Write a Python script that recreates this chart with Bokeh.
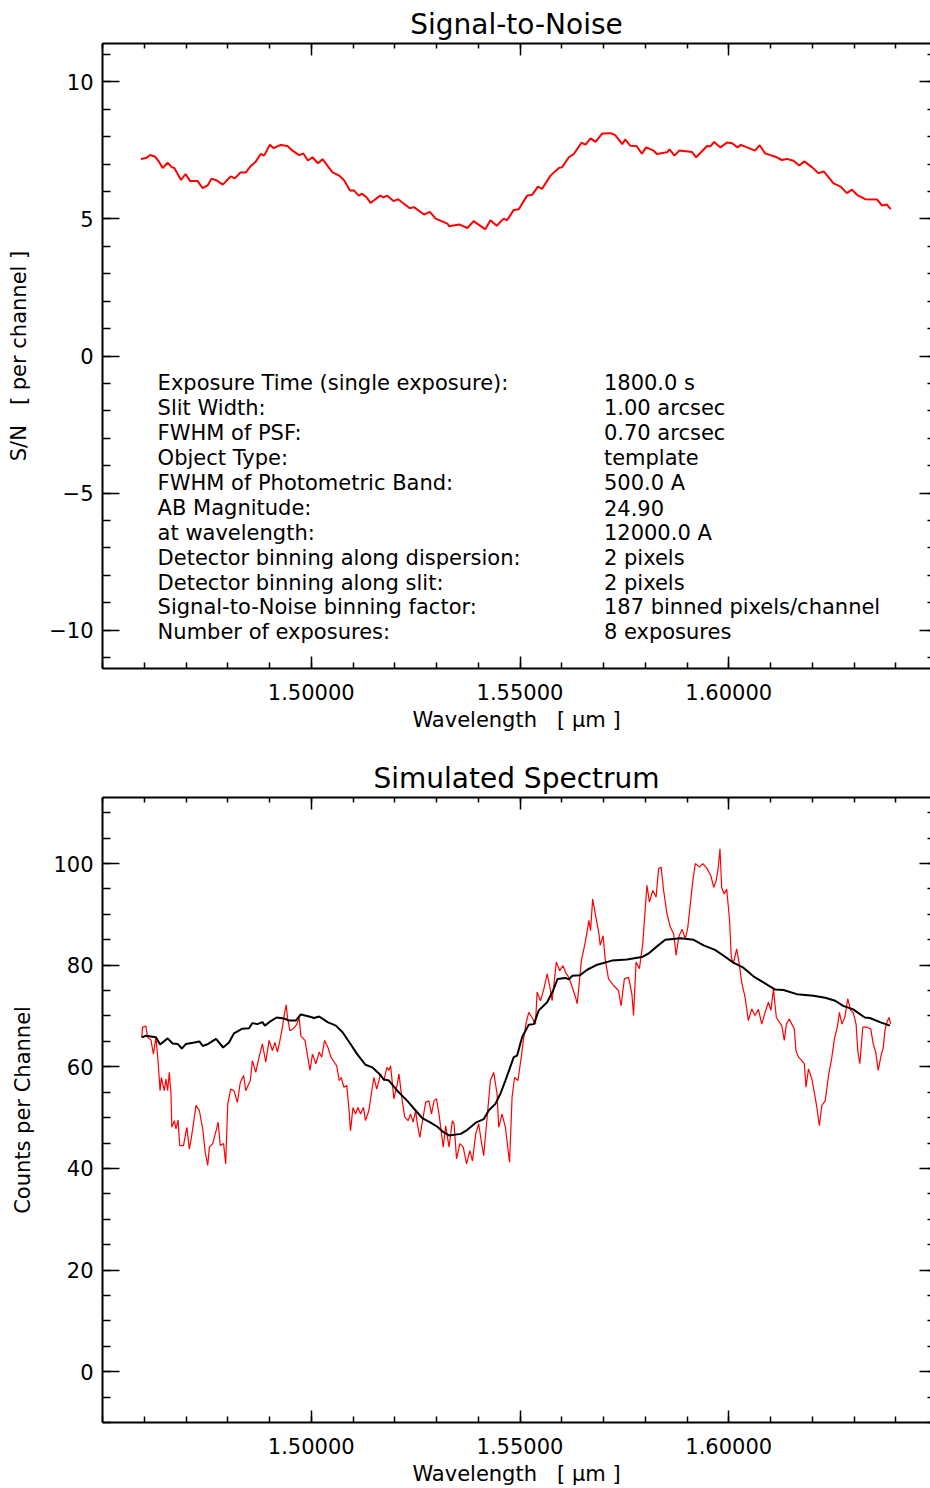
from bokeh.plotting import figure
from bokeh.models import (FixedTicker, LinearAxis, Range1d, NumeralTickFormatter,
                          CustomJSTickFormatter, ColumnDataSource, CustomLabelingPolicy)
from bokeh.layouts import column
from bokeh.embed import file_html
from bokeh.resources import INLINE
from bokeh.core.properties import value

FONT = "DejaVu Sans"
NB = "\u00a0"

# ---------------- data ----------------
sn_wl = [1.4592, 1.4604, 1.4614, 1.4626, 1.4636, 1.4644, 1.4656, 1.4666, 1.4672, 1.4688,
         1.4699, 1.4710, 1.4728, 1.4740, 1.4752, 1.4761, 1.4774, 1.4788, 1.4807, 1.4817,
         1.4830, 1.4843, 1.4854, 1.4867, 1.4879, 1.4887, 1.4901, 1.4910, 1.4927, 1.4943,
         1.4955, 1.4971, 1.4981, 1.4992, 1.5003, 1.5016, 1.5027, 1.5051, 1.5067, 1.5078,
         1.5093, 1.5102, 1.5114, 1.5122, 1.5134, 1.5142, 1.5165, 1.5173, 1.5182, 1.5197,
         1.5208, 1.5236, 1.5246, 1.5270, 1.5284, 1.5298, 1.5326, 1.5330, 1.5354, 1.5374,
         1.5389, 1.5417, 1.5429, 1.5444, 1.5461, 1.5469, 1.5485, 1.5497, 1.5517, 1.5529,
         1.5543, 1.5553, 1.5573, 1.5593, 1.5601, 1.5617, 1.5629, 1.5647, 1.5657, 1.5669,
         1.5681, 1.5697, 1.5717, 1.5728, 1.5745, 1.5752, 1.5764, 1.5779, 1.5792, 1.5802,
         1.5820, 1.5828, 1.5852, 1.5858, 1.5870, 1.5882, 1.5912, 1.5922, 1.5948, 1.5956,
         1.5965, 1.5980, 1.5996, 1.6008, 1.6021, 1.6029, 1.6063, 1.6074, 1.6087, 1.6115,
         1.6127, 1.6139, 1.6155, 1.6169, 1.6181, 1.6199, 1.6215, 1.6228, 1.6251, 1.6268,
         1.6283, 1.6295, 1.6307, 1.6327, 1.6355, 1.6367, 1.6378, 1.6388]
sn_val = [7.19, 7.22, 7.33, 7.27, 7.07, 6.86, 7.05, 6.89, 6.86, 6.42,
          6.64, 6.38, 6.38, 6.12, 6.22, 6.47, 6.40, 6.25, 6.55, 6.48,
          6.69, 6.69, 6.91, 7.09, 7.37, 7.31, 7.71, 7.58, 7.70, 7.66,
          7.49, 7.33, 7.39, 7.13, 7.25, 7.03, 7.18, 6.70, 6.58, 6.42,
          6.04, 6.04, 5.85, 5.92, 5.76, 5.58, 5.85, 5.79, 5.85, 5.65,
          5.72, 5.39, 5.43, 5.16, 5.26, 5.01, 4.83, 4.73, 4.80, 4.67,
          4.92, 4.62, 4.95, 4.75, 5.01, 4.95, 5.33, 5.35, 5.85, 5.88,
          6.18, 6.10, 6.58, 6.86, 6.89, 7.25, 7.37, 7.78, 7.71, 7.94,
          7.81, 8.12, 8.13, 8.06, 7.73, 7.90, 7.67, 7.66, 7.38, 7.61,
          7.49, 7.37, 7.43, 7.54, 7.31, 7.50, 7.44, 7.25, 7.66, 7.65,
          7.81, 7.61, 7.79, 7.76, 7.61, 7.70, 7.49, 7.69, 7.39, 7.25,
          7.15, 7.19, 7.12, 6.95, 7.10, 6.89, 6.67, 6.73, 6.30, 6.18,
          5.94, 6.07, 5.88, 5.72, 5.71, 5.49, 5.53, 5.36]

spec_wl = [1.4594, 1.4596, 1.4604, 1.4608, 1.4616, 1.4622, 1.4628, 1.4633, 1.4638, 1.4641,
           1.4648, 1.4652, 1.4656, 1.4660, 1.4664, 1.4666, 1.4672, 1.4676, 1.4681, 1.4685,
           1.4694, 1.4702, 1.4708, 1.4713, 1.4724, 1.4732, 1.4740, 1.4746, 1.4752, 1.4756,
           1.4764, 1.4772, 1.4777, 1.4782, 1.4790, 1.4795, 1.4800, 1.4807, 1.4815, 1.4823,
           1.4830, 1.4838, 1.4843, 1.4854, 1.4859, 1.4867, 1.4875, 1.4883, 1.4891, 1.4899,
           1.4907, 1.4913, 1.4919, 1.4925, 1.4931, 1.4935, 1.4940, 1.4943, 1.4949, 1.4957,
           1.4965, 1.4971, 1.4975, 1.4985, 1.4991, 1.4997, 1.5003, 1.5011, 1.5019, 1.5025,
           1.5032, 1.5040, 1.5047, 1.5055, 1.5061, 1.5067, 1.5072, 1.5078, 1.5085, 1.5090,
           1.5094, 1.5100, 1.5106, 1.5112, 1.5118, 1.5125, 1.5130, 1.5138, 1.5144, 1.5150,
           1.5157, 1.5166, 1.5174, 1.5181, 1.5186, 1.5190, 1.5198, 1.5206, 1.5210, 1.5218,
           1.5224, 1.5232, 1.5238, 1.5244, 1.5250, 1.5254, 1.5260, 1.5266, 1.5274, 1.5282,
           1.5288, 1.5294, 1.5300, 1.5306, 1.5310, 1.5316, 1.5322, 1.5330, 1.5338, 1.5342,
           1.5348, 1.5356, 1.5364, 1.5372, 1.5380, 1.5386, 1.5394, 1.5401, 1.5407, 1.5413,
           1.5422, 1.5429, 1.5437, 1.5445, 1.5449, 1.5457, 1.5465, 1.5475, 1.5481, 1.5487,
           1.5495, 1.5503, 1.5509, 1.5515, 1.5521, 1.5529, 1.5537, 1.5541, 1.5549, 1.5557,
           1.5565, 1.5571, 1.5577, 1.5587, 1.5595, 1.5603, 1.5609, 1.5617, 1.5625, 1.5633,
           1.5637, 1.5641, 1.5647, 1.5657, 1.5665, 1.5669, 1.5674, 1.5681, 1.5689, 1.5692,
           1.5699, 1.5704, 1.5712, 1.5724, 1.5736, 1.5742, 1.5750, 1.5760, 1.5768, 1.5772,
           1.5778, 1.5786, 1.5794, 1.5804, 1.5810, 1.5818, 1.5826, 1.5832, 1.5838, 1.5844,
           1.5852, 1.5860, 1.5868, 1.5874, 1.5880, 1.5888, 1.5896, 1.5902, 1.5908, 1.5914,
           1.5920, 1.5930, 1.5938, 1.5948, 1.5957, 1.5964, 1.5970, 1.5975, 1.5979, 1.5983,
           1.5989, 1.5995, 1.6002, 1.6006, 1.6011, 1.6019, 1.6025, 1.6031, 1.6039, 1.6047,
           1.6055, 1.6063, 1.6071, 1.6079, 1.6087, 1.6095, 1.6101, 1.6107, 1.6114, 1.6121,
           1.6127, 1.6133, 1.6138, 1.6145, 1.6151, 1.6157, 1.6161, 1.6167, 1.6175, 1.6181,
           1.6185, 1.6191, 1.6199, 1.6207, 1.6211, 1.6217, 1.6223, 1.6231, 1.6239, 1.6247,
           1.6253, 1.6260, 1.6265, 1.6271, 1.6278, 1.6285, 1.6292, 1.6298, 1.6305, 1.6309,
           1.6314, 1.6321, 1.6330, 1.6340, 1.6346, 1.6352, 1.6358, 1.6364, 1.6370, 1.6374,
           1.6379, 1.6384, 1.6388]
spec_counts = [65.8, 67.8, 68.0, 65.8, 65.3, 62.5, 65.8, 61.2, 55.3, 57.9,
               55.3, 57.6, 55.3, 58.9, 54.7, 48.1, 49.4, 47.8, 49.5, 44.5,
               44.5, 48.1, 43.8, 46.1, 52.4, 51.4, 47.8, 43.2, 40.6, 44.2,
               44.9, 47.4, 49.1, 44.5, 44.9, 40.9, 52.7, 55.6, 55.3, 53.0,
               56.9, 58.3, 55.3, 57.3, 61.2, 58.9, 61.9, 64.5, 60.9, 65.2,
               63.2, 64.8, 62.9, 65.2, 67.8, 70.1, 72.2, 69.7, 67.1, 67.5,
               68.3, 69.7, 66.1, 65.2, 62.2, 59.3, 62.5, 60.6, 62.9, 61.9,
               65.2, 63.8, 61.9, 60.9, 60.2, 57.3, 57.9, 56.0, 56.3, 52.0,
               47.4, 52.0, 50.7, 52.0, 50.7, 52.0, 49.4, 51.4, 54.7, 57.9,
               55.6, 58.6, 57.3, 59.9, 59.3, 60.2, 53.7, 56.6, 58.6, 53.3,
               50.1, 49.4, 50.7, 49.1, 51.4, 48.8, 46.1, 49.1, 53.0, 53.3,
               50.7, 53.3, 53.7, 50.7, 48.1, 44.2, 48.4, 44.2, 49.4, 48.8,
               41.9, 44.9, 44.2, 40.9, 43.5, 41.5, 46.8, 48.8, 45.5, 42.5,
               50.7, 57.3, 58.9, 54.7, 48.1, 50.7, 48.1, 41.2, 54.0, 57.9,
               57.3, 61.9, 65.8, 68.8, 70.7, 69.7, 68.4, 74.7, 73.0, 75.3,
               78.3, 76.0, 73.0, 80.6, 78.9, 79.9, 78.6, 77.6, 75.7, 73.7,
               72.4, 75.7, 80.9, 84.8, 88.8, 86.8, 93.0, 89.8, 86.2, 83.9,
               85.8, 81.2, 77.3, 76.0, 75.0, 72.0, 77.3, 77.6, 74.3, 70.1,
               80.6, 79.3, 84.2, 95.7, 92.4, 94.7, 93.4, 99.0, 99.3, 94.7,
               90.1, 87.5, 86.2, 81.9, 85.5, 87.1, 85.2, 87.5, 92.1, 96.7,
               100.0, 99.3, 100.0, 99.0, 97.6, 95.3, 96.7, 99.3, 102.9, 95.3,
               94.0, 95.0, 88.8, 81.6, 80.3, 83.2, 80.3, 76.6, 73.7, 69.1,
               71.4, 70.1, 71.3, 68.4, 70.7, 72.7, 71.1, 75.3, 69.7, 68.8,
               68.1, 65.2, 68.4, 69.4, 68.4, 67.5, 63.2, 61.9, 61.2, 60.6,
               56.0, 59.6, 57.6, 54.0, 52.0, 48.4, 52.4, 53.3, 58.3, 61.9,
               65.5, 67.8, 70.7, 68.4, 69.7, 73.4, 71.1, 70.7, 68.4, 63.2,
               60.6, 67.8, 67.8, 67.5, 64.5, 62.9, 59.3, 61.9, 63.8, 67.1,
               68.8, 69.7, 68.4]

model_wl = [1.4594, 1.4604, 1.4628, 1.4638, 1.4656, 1.4668, 1.4680, 1.4690, 1.4700, 1.4720,
            1.4732, 1.4740, 1.4753, 1.4772, 1.4789, 1.4803, 1.4815, 1.4835, 1.4851, 1.4859,
            1.4871, 1.4883, 1.4889, 1.4903, 1.4917, 1.4935, 1.4947, 1.4963, 1.4975, 1.4995,
            1.5007, 1.5019, 1.5039, 1.5059, 1.5075, 1.5094, 1.5110, 1.5130, 1.5146, 1.5162,
            1.5174, 1.5186, 1.5206, 1.5230, 1.5250, 1.5266, 1.5286, 1.5302, 1.5314, 1.5330,
            1.5358, 1.5374, 1.5394, 1.5413, 1.5425, 1.5441, 1.5453, 1.5465, 1.5485, 1.5493,
            1.5505, 1.5521, 1.5533, 1.5545, 1.5565, 1.5579, 1.5590, 1.5609, 1.5617, 1.5625,
            1.5643, 1.5661, 1.5685, 1.5720, 1.5756, 1.5792, 1.5808, 1.5828, 1.5848, 1.5884,
            1.5916, 1.5940, 1.5967, 1.5987, 1.6011, 1.6035, 1.6059, 1.6083, 1.6111, 1.6131,
            1.6163, 1.6203, 1.6231, 1.6255, 1.6274, 1.6298, 1.6326, 1.6338, 1.6362, 1.6386]
model_counts = [65.8, 66.1, 65.8, 64.4, 65.6, 64.6, 64.5, 63.6, 64.5, 64.8,
                65.0, 64.1, 64.5, 65.5, 63.8, 64.8, 66.6, 67.5, 67.6, 68.6,
                68.4, 68.8, 68.1, 69.0, 69.7, 69.5, 69.1, 69.1, 70.3, 69.9,
                69.6, 69.9, 68.8, 68.1, 66.8, 64.5, 62.5, 60.4, 59.9, 58.7,
                57.5, 57.3, 55.3, 53.3, 51.4, 49.9, 49.0, 48.2, 47.3, 46.5,
                46.8, 47.6, 49.0, 49.7, 51.4, 52.7, 54.7, 57.3, 61.9, 62.2,
                65.8, 68.3, 68.4, 71.1, 72.7, 75.0, 77.3, 77.5, 77.2, 77.9,
                78.0, 79.1, 80.1, 80.9, 81.1, 81.6, 82.3, 83.7, 85.0, 85.3,
                85.0, 83.9, 83.0, 81.9, 80.5, 79.5, 77.8, 76.6, 75.2, 75.1,
                74.3, 74.0, 73.6, 73.0, 72.0, 71.3, 69.7, 69.6, 68.8, 68.1]

info_names = ["Exposure Time (single exposure):", "Slit Width:", "FWHM of PSF:",
              "Object Type:", "FWHM of Photometric Band:", "AB Magnitude:",
              "at wavelength:", "Detector binning along dispersion:",
              "Detector binning along slit:", "Signal-to-Noise binning factor:",
              "Number of exposures:"]
info_values = ["1800.0 s", "1.00 arcsec", "0.70 arcsec", "template", "500.0 A", "24.90",
               "12000.0 A", "2 pixels", "2 pixels", "187 binned pixels/channel",
               "8 exposures"]

x_major = [1.50, 1.55, 1.60]
x_minor = [1.45, 1.46, 1.47, 1.48, 1.49, 1.50, 1.51, 1.52, 1.53, 1.54, 1.55,
           1.56, 1.57, 1.58, 1.59, 1.60, 1.61, 1.62, 1.63, 1.64, 1.65]
sn_major = [-10, -5, 0, 5, 10]
sn_minor = list(range(-11, 12))
cnt_major = [0, 20, 40, 60, 80, 100]
cnt_minor = list(range(-10, 115, 5))

X_RANGE = (1.45, 1.64832)

minus_fmt = CustomJSTickFormatter(code="return tick < 0 ? '\u2212' + Math.abs(tick) : String(tick);")
no_labels = CustomLabelingPolicy(code="return new Set();")


def style_axis(ax, major_in, minor_in, labels=True, line=True):
    ax.major_tick_in = major_in
    ax.major_tick_out = 0
    ax.minor_tick_in = minor_in
    ax.minor_tick_out = 0
    ax.major_tick_line_width = 1.5
    ax.minor_tick_line_width = 1.5
    ax.major_tick_line_color = "black"
    ax.minor_tick_line_color = "black"
    ax.axis_line_width = 2
    ax.axis_line_color = "black" if line else None
    if not labels:
        ax.major_label_policy = no_labels
        ax.major_label_standoff = 0
        ax.major_label_text_font_size = "0px"
    else:
        ax.major_label_text_font = FONT
        ax.major_label_text_color = "black"
    ax.axis_label_text_font = FONT
    ax.axis_label_text_font_style = "normal"
    ax.axis_label_text_color = "black"


def make_panel(title, y_range, y_major, y_minor, y_label, height, bottom_border):
    p = figure(width=930, height=height, x_range=Range1d(*X_RANGE), y_range=Range1d(*y_range),
               output_backend="svg", toolbar_location=None,
               min_border_left=102, min_border_right=0, min_border_top=43,
               min_border_bottom=bottom_border)
    p.title.text = title
    p.title.align = "center"
    p.title.text_font = FONT
    p.title.text_font_style = "normal"
    p.title.text_font_size = "28px"
    p.title.text_color = "black"
    p.title.standoff = 6
    p.grid.visible = False
    p.outline_line_color = None
    p.background_fill_color = "white"
    p.border_fill_color = "white"

    xt = FixedTicker(ticks=x_major, minor_ticks=x_minor)
    yt = FixedTicker(ticks=y_major, minor_ticks=y_minor)

    xb = p.xaxis[0]
    xb.ticker = xt
    xb.formatter = NumeralTickFormatter(format="0.00000")
    style_axis(xb, 12, 6)
    xb.major_label_text_font_size = "21px"
    xb.major_label_standoff = 15
    xb.axis_label = "Wavelength" + NB * 3 + "[" + NB + "\u03bcm" + NB + "]"
    xb.axis_label_text_font_size = "21px"
    xb.axis_label_standoff = 5

    yl = p.yaxis[0]
    yl.ticker = yt
    yl.formatter = minus_fmt
    style_axis(yl, 17, 8)
    yl.major_label_text_font_size = "21px"
    yl.major_label_standoff = 9
    yl.axis_label = y_label
    yl.axis_label_text_font_size = "21px"
    yl.axis_label_standoff = 15

    xa = LinearAxis(ticker=xt)
    style_axis(xa, 12, 5, labels=False)
    p.add_layout(xa, "above")

    yr = LinearAxis(ticker=yt)
    style_axis(yr, 11, 3, labels=False, line=False)
    p.add_layout(yr, "right")
    return p


p1 = make_panel("Signal-to-Noise", (-11.4, 11.4), sn_major, sn_minor,
                "S/N" + NB * 3 + "[" + NB + "per channel" + NB + "]", 754, 86)
p1.line(sn_wl, sn_val, line_color="#ff0000", line_width=2)

info_src = ColumnDataSource(dict(
    xl=[1.4632] * len(info_names),
    xr=[1.5701] * len(info_names),
    y=[-1.0 - 0.908 * i for i in range(len(info_names))],
    names=info_names,
    vals=info_values,
))
p1.text(x="xl", y="y", text="names", source=info_src, text_font=value(FONT),
        text_font_size="21px", text_baseline="middle", text_align="left", text_color="black")
p1.text(x="xr", y="y", text="vals", source=info_src, text_font=value(FONT),
        text_font_size="21px", text_baseline="middle", text_align="left", text_color="black")

p2 = make_panel("Simulated Spectrum", (-10.0, 113.0), cnt_major, cnt_minor,
                "Counts per Channel", 734, 66)
p2.line(spec_wl, spec_counts, line_color="#ff0000", line_width=1.2)
p2.line(model_wl, model_counts, line_color="black", line_width=2)

layout = column(p1, p2, spacing=0)
html = file_html(layout, INLINE, title="Signal-to-Noise")
open("out.html", "w").write(html)
